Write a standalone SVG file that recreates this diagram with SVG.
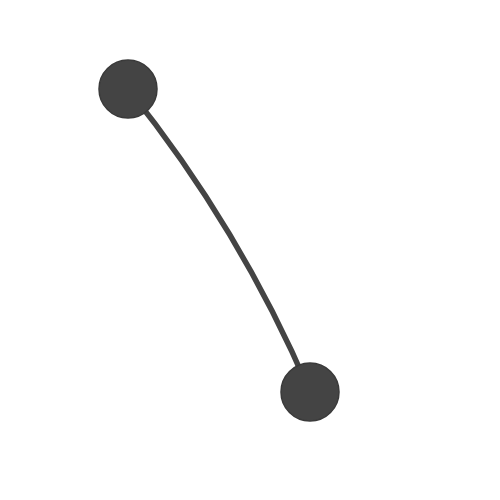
<svg xmlns="http://www.w3.org/2000/svg" width="500" height="500" viewBox="0 0 500 500">
<style>
.node{fill:#444444;stroke:#3a3a3a;stroke-width:1.5}
.edge{fill:none;stroke:#444444;stroke-width:5.5;stroke-linecap:round}
</style>
<rect width="500" height="500" fill="#ffffff"/>
<g id="connectors">
<path class="edge" d="M128,89 Q240,228 310,392"/>
</g>
<g id="node-a"><circle class="node" cx="128" cy="89" r="29"/></g>
<g id="node-b"><circle class="node" cx="310" cy="392" r="29"/></g>
</svg>
